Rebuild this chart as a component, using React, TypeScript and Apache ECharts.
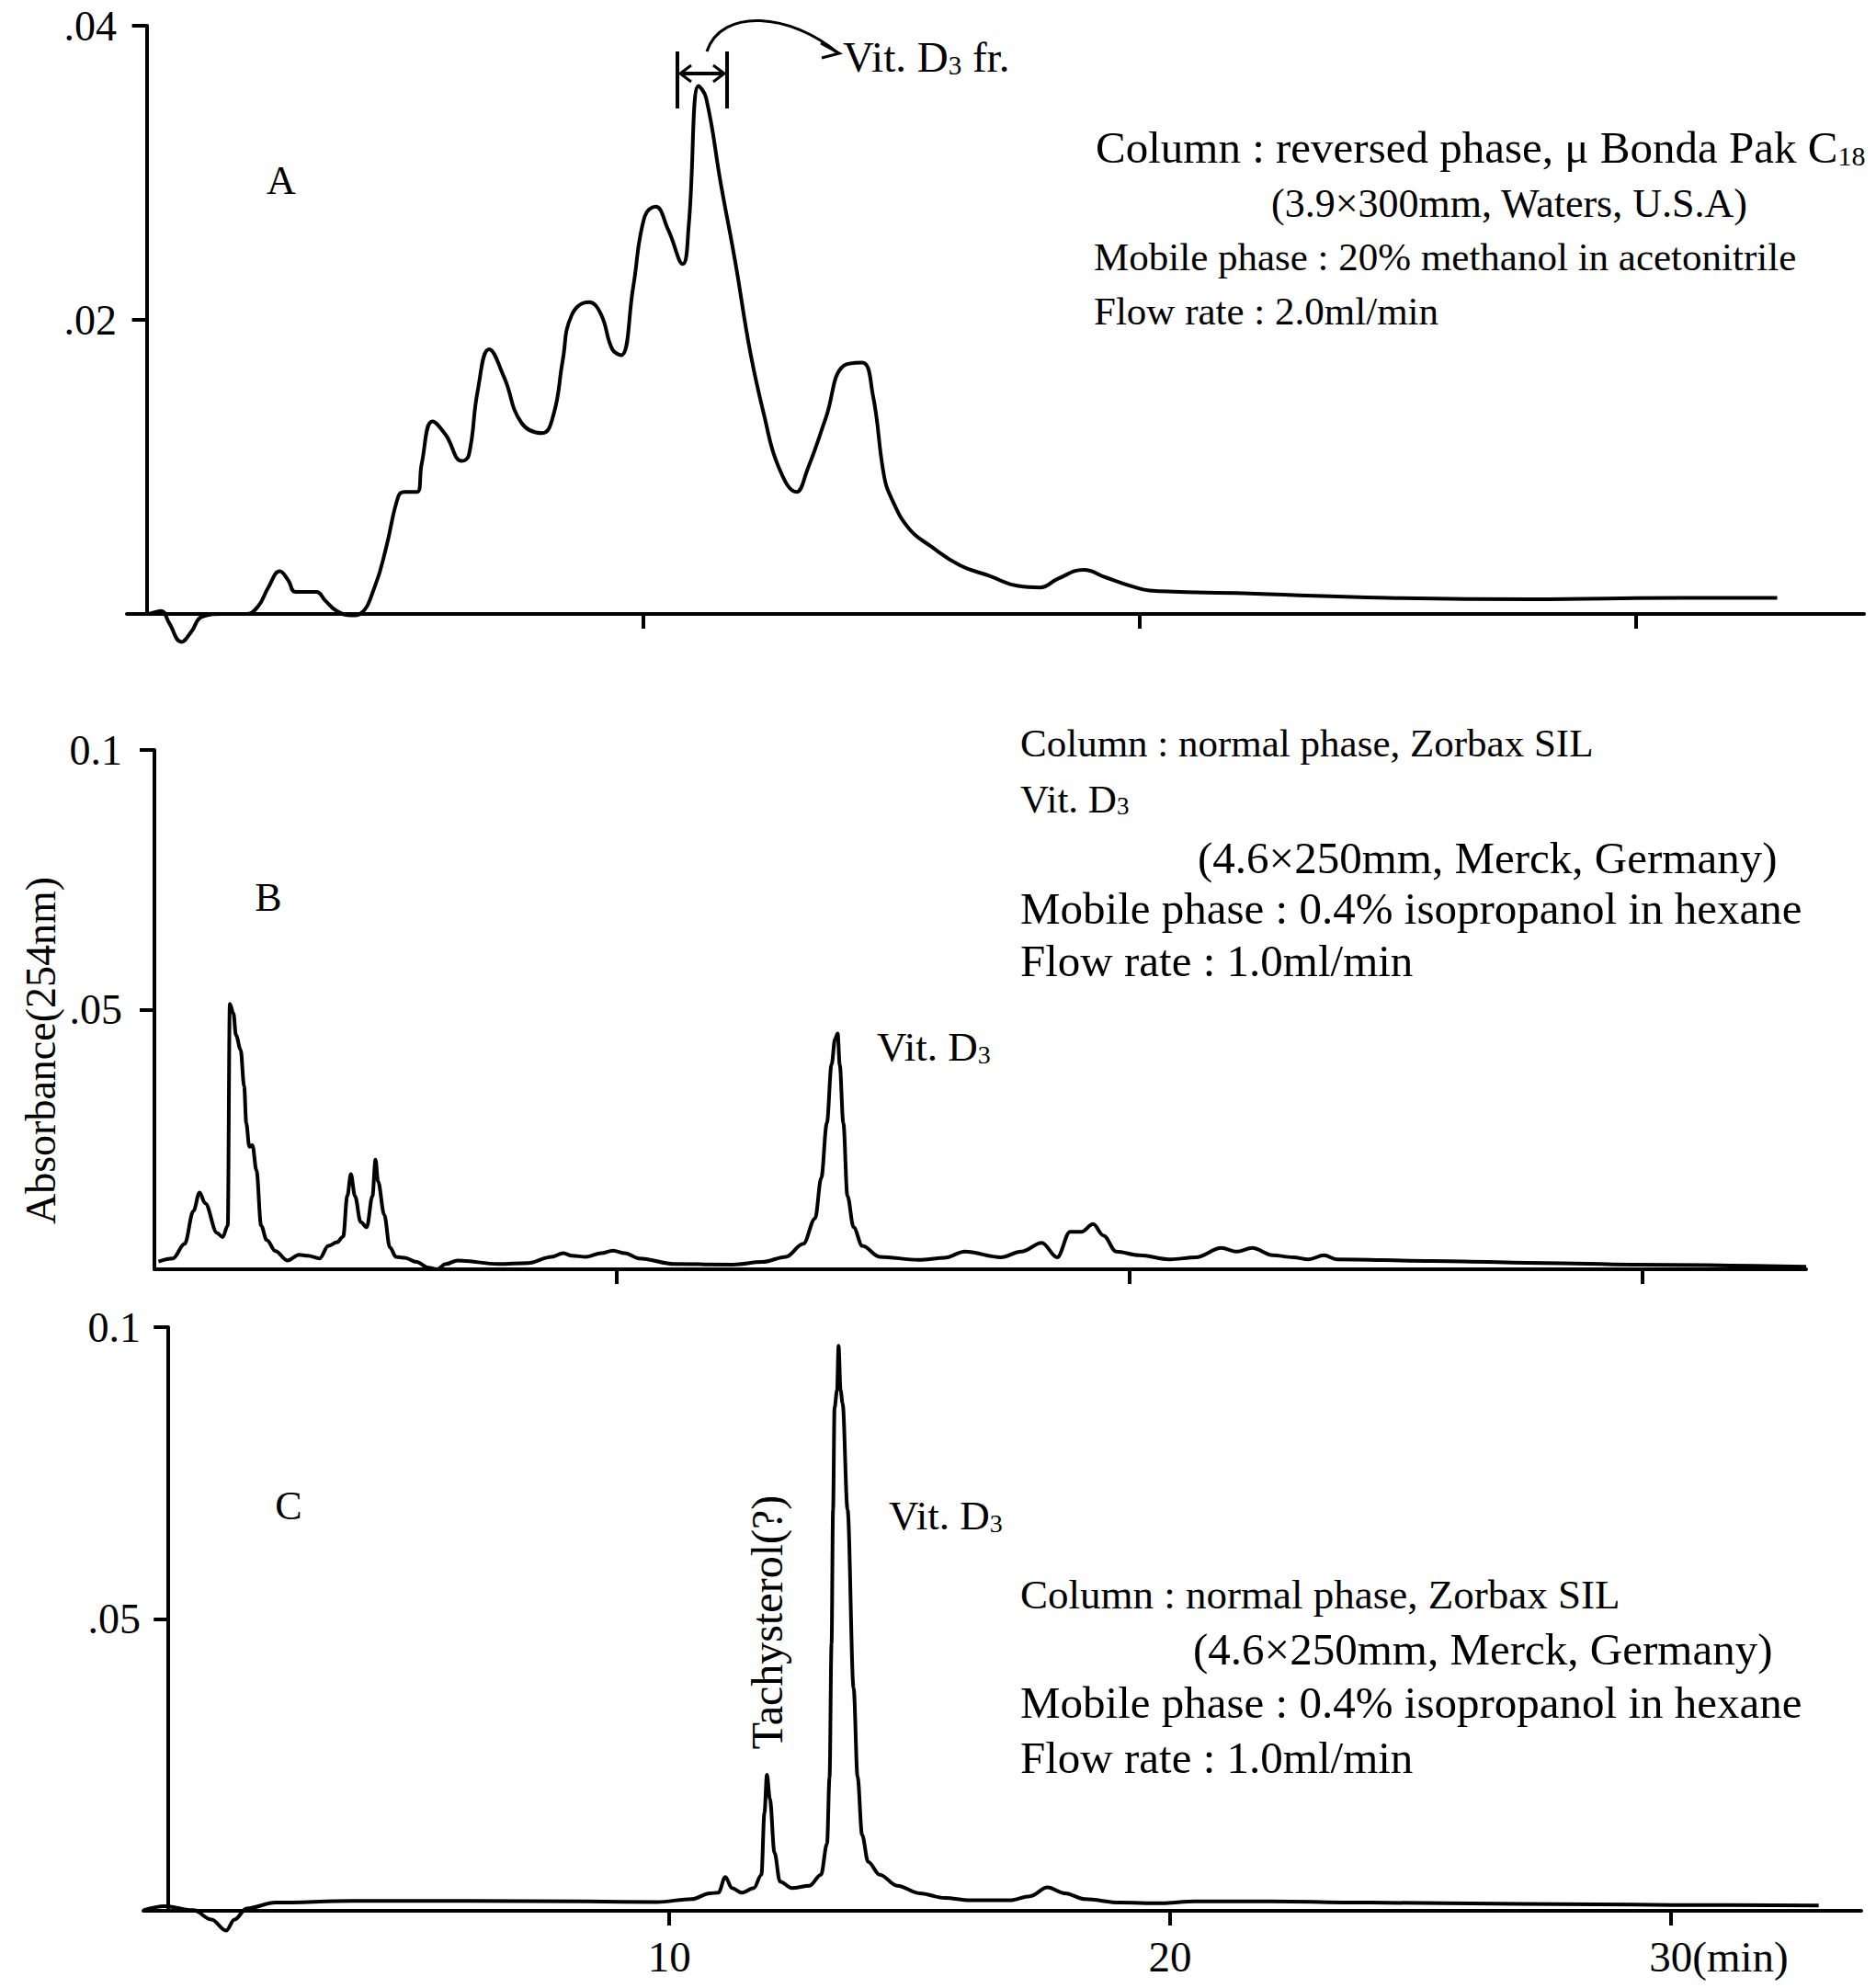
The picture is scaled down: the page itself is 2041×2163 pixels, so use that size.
import React, { useEffect, useRef } from 'react';
import * as echarts from 'echarts';

const SERIF = '"Liberation Serif", "Times New Roman", serif';

// Retention time ticks (min)
const timeTicks = [10, 20, 30];

// Y-axis tick values per panel
const yTicksA = [0.02, 0.04];
const yTicksBC = [0.05, 0.1];
const yLabelMap: Record<string, string> = { '0.02': '.02', '0.04': '.04', '0.05': '.05', '0.1': '0.1' };

// Panel A: reversed phase, [time (min), absorbance]
const traceA: [number, number][] = [
  [-0.3, 0], [0, 0], [0.29, 0.0002], [0.45, -0.0006], [0.7, -0.0019], [0.9, -0.0012], [1.11, -0.0002],
  [1.5, 0], [2.0, 0], [2.24, 0.0005], [2.45, 0.0018], [2.68, 0.0029], [2.85, 0.0023], [3.0, 0.0015],
  [3.42, 0.0015], [3.6, 0.0009], [3.83, 0.0002], [4.13, -0.0001], [4.3, 0], [4.6, 0.0019], [4.83, 0.0046],
  [5.07, 0.008], [5.19, 0.0083], [5.45, 0.0083], [5.54, 0.0102], [5.76, 0.0131], [6.02, 0.0122],
  [6.35, 0.0104], [6.49, 0.0108], [6.67, 0.0152], [6.9, 0.018], [7.2, 0.0161], [7.55, 0.013],
  [7.97, 0.0123], [8.2, 0.0136], [8.38, 0.0172], [8.56, 0.0203], [8.91, 0.0212], [9.15, 0.0204],
  [9.38, 0.018], [9.56, 0.0176], [9.8, 0.0222], [10.03, 0.027], [10.25, 0.0277], [10.51, 0.0261],
  [10.8, 0.0238], [10.92, 0.0264], [11.12, 0.0359], [11.27, 0.0351], [11.57, 0.0292], [11.86, 0.0239],
  [12.16, 0.0178], [12.44, 0.0135], [12.73, 0.01], [13.09, 0.0083], [13.31, 0.0098], [13.68, 0.0133],
  [14.05, 0.0169], [14.41, 0.0171], [14.63, 0.0149], [14.85, 0.0095], [15.0, 0.0079], [15.36, 0.0058],
  [15.8, 0.0046], [16.39, 0.0033], [16.97, 0.0026], [17.56, 0.0019], [18.0, 0.0018], [18.36, 0.0024],
  [18.88, 0.003], [19.31, 0.0025], [19.83, 0.0019], [20.2, 0.0016], [22.1, 0.0014], [25.0, 0.0011],
  [27.9, 0.001], [30.9, 0.0011], [32.85, 0.0011],
];

// Panel B: normal phase, Vit. D3 fraction
const traceB: [number, number][] = [
  [1.08, 0.0015], [1.36, 0.0021], [1.59, 0.0049], [1.76, 0.0112], [1.88, 0.0148], [1.99, 0.0127],
  [2.22, 0.007], [2.33, 0.0062], [2.43, 0.0084], [2.47, 0.0511], [2.54, 0.0493], [2.59, 0.0451],
  [2.68, 0.0423], [2.75, 0.0352], [2.79, 0.0282], [2.85, 0.0236], [2.91, 0.0239], [2.99, 0.019],
  [3.08, 0.0084], [3.19, 0.0056], [3.36, 0.0035], [3.59, 0.0017], [3.82, 0.0028], [3.99, 0.0026],
  [4.22, 0.0021], [4.39, 0.0045], [4.56, 0.0052], [4.68, 0.0063], [4.76, 0.0141], [4.83, 0.0183],
  [4.91, 0.0141], [5.02, 0.0091], [5.14, 0.0081], [5.25, 0.0141], [5.31, 0.0211], [5.36, 0.0169],
  [5.48, 0.0105], [5.59, 0.0042], [5.71, 0.0024], [5.88, 0.0022], [6.11, 0.0014], [6.34, 0.0003],
  [6.51, 0.0], [6.68, 0.001], [6.91, 0.0017], [7.71, 0.001], [8.28, 0.0012], [8.74, 0.0024],
  [8.97, 0.0031], [9.14, 0.0026], [9.42, 0.0024], [9.71, 0.0031], [9.94, 0.0036], [10.17, 0.0031],
  [10.45, 0.0021], [11.14, 0.001], [12.28, 0.0009], [12.85, 0.0014], [13.31, 0.0024], [13.65, 0.0049],
  [13.88, 0.0098], [14.0, 0.0176], [14.11, 0.0282], [14.2, 0.0394], [14.27, 0.0444], [14.32, 0.0454],
  [14.36, 0.0394], [14.43, 0.0282], [14.51, 0.0141], [14.63, 0.0081], [14.8, 0.0045], [15.14, 0.0024],
  [15.9, 0.0018], [16.4, 0.0022], [16.8, 0.0034], [17.5, 0.0023], [17.9, 0.0034], [18.3, 0.0051],
  [18.6, 0.0023], [18.85, 0.0072], [19.07, 0.0072], [19.3, 0.0087], [19.5, 0.0065], [19.75, 0.0034],
  [20.2, 0.0027], [20.8, 0.0019], [21.3, 0.0023], [21.8, 0.0041], [22.1, 0.0034], [22.4, 0.0041],
  [22.8, 0.0027], [23.2, 0.0023], [23.5, 0.0019], [23.8, 0.0027], [24.05, 0.0019], [25.9, 0.0016],
  [28.1, 0.0012], [29.8, 0.0009], [33.2, 0.0005],
];

// Panel C: normal phase, purified Vit. D3
const traceC: [number, number][] = [
  [-0.5, 0.0001], [-0.08, 0.0008], [0.5, 0.0001], [0.86, -0.0015], [1.15, -0.0034], [1.32, -0.0015],
  [1.56, 0.0004], [2.14, 0.0014], [3.67, 0.0017], [6.0, 0.0017], [8.35, 0.0016], [9.75, 0.0015],
  [10.45, 0.002], [10.81, 0.003], [10.98, 0.0031], [11.12, 0.0058], [11.25, 0.0039], [11.45, 0.0031],
  [11.69, 0.0039], [11.84, 0.0062], [11.9, 0.0168], [11.95, 0.0233], [12.01, 0.0191], [12.1, 0.01],
  [12.21, 0.005], [12.45, 0.0039], [12.8, 0.0043], [13.03, 0.0062], [13.15, 0.0115], [13.2, 0.0229],
  [13.24, 0.0458], [13.27, 0.0687], [13.3, 0.0862], [13.35, 0.0892], [13.38, 0.0968], [13.42, 0.0892],
  [13.46, 0.087], [13.56, 0.0687], [13.68, 0.0382], [13.76, 0.0229], [13.85, 0.013], [13.97, 0.0084],
  [14.2, 0.0062], [14.55, 0.0043], [15.0, 0.003], [15.5, 0.0022], [16.0, 0.0018], [16.8, 0.0018],
  [17.2, 0.0025], [17.55, 0.004], [17.9, 0.003], [18.3, 0.002], [19.0, 0.0014], [19.8, 0.0013],
  [20.5, 0.0016], [22.0, 0.0016], [24.0, 0.0014], [27.0, 0.0012], [30.0, 0.001], [32.95, 0.0009],
];

const black = '#000';
const axisLineStyle = { color: black, width: 4 };

function yLabel(v: number) {
  return yLabelMap[String(+v.toFixed(3))] ?? '';
}

function makeX(gridIndex: number, min: number, max: number, labels: boolean) {
  return {
    gridIndex,
    type: 'value',
    min,
    max,
    axisLine: { show: true, onZero: true, lineStyle: axisLineStyle },
    axisTick: { show: true, customValues: timeTicks, length: 16, lineStyle: axisLineStyle },
    axisLabel: labels
      ? {
          show: true,
          customValues: timeTicks,
          margin: 26,
          fontSize: 47,
          fontFamily: SERIF,
          color: black,
          formatter: (v: number) => (v === 30 ? '{u|30(min)}' : String(v)),
          rich: { u: { fontSize: 47, fontFamily: SERIF, color: black, padding: [0, 0, 0, 104] } },
        }
      : { show: false },
    splitLine: { show: false },
  };
}

function makeY(gridIndex: number, max: number, ticks: number[], margin: number) {
  return {
    gridIndex,
    type: 'value',
    min: 0,
    max,
    axisLine: { show: true, onZero: true, lineStyle: axisLineStyle },
    axisTick: { show: true, customValues: ticks, length: 16, lineStyle: axisLineStyle },
    axisLabel: {
      show: true,
      customValues: ticks,
      margin,
      fontSize: 46,
      fontFamily: SERIF,
      color: black,
      formatter: (v: number) => yLabel(v),
    },
    splitLine: { show: false },
  };
}

function txt(x: number, y: number, text: string, fontSize: number, extra: any = {}) {
  return {
    type: 'text',
    x,
    y,
    silent: true,
    style: {
      text,
      fill: black,
      fontSize,
      fontFamily: SERIF,
      align: 'left',
      verticalAlign: 'middle',
      rich: {
        s: { fontSize: Math.round(fontSize * 0.62), fontFamily: SERIF, fill: black, verticalAlign: 'bottom' },
      },
      ...extra,
    },
  };
}

function series(i: number, data: [number, number][], smooth: number, monotone: boolean) {
  return {
    type: 'line',
    xAxisIndex: i,
    yAxisIndex: i,
    data,
    showSymbol: false,
    symbol: 'none',
    smooth,
    smoothMonotone: monotone ? 'x' : undefined,
    clip: false,
    lineStyle: { color: black, width: 4 },
  };
}

export default function App() {
  const ref = useRef<HTMLDivElement>(null);
  useEffect(() => {
    document.body.style.margin = '0';
    const chart = echarts.init(ref.current as HTMLDivElement, null, { renderer: 'svg' });
    const line = (x1: number, y1: number, x2: number, y2: number) => ({
      type: 'line',
      silent: true,
      shape: { x1, y1, x2, y2 },
      style: { stroke: black, lineWidth: 4 },
    });
    const poly = (points: number[][]) => ({
      type: 'polyline',
      silent: true,
      shape: { points },
      style: { stroke: black, lineWidth: 3, fill: null },
    });
    const graphic: any[] = [
      // Panel A annotations
      txt(306, 196, 'A', 44, { align: 'center' }),
      txt(1192, 160, 'Column : reversed phase, \u03bc Bonda Pak C{s|18}', 49),
      txt(1383, 221, '(3.9\u00d7300mm, Waters, U.S.A)', 44),
      txt(1190, 279, 'Mobile phase : 20% methanol in acetonitrile', 43),
      txt(1190, 338, 'Flow rate : 2.0ml/min', 43),
      txt(917, 62, 'Vit. D{s|3} fr.', 47),
      line(737, 56, 737, 118),
      line(791, 56, 791, 118),
      line(740, 80, 788, 80),
      poly([[752, 71], [740, 80], [752, 89]]),
      poly([[776, 71], [788, 80], [776, 89]]),
      {
        type: 'bezierCurve',
        silent: true,
        shape: { x1: 769, y1: 56, cpx1: 785, cpy1: 8, cpx2: 860, cpy2: 14, x2: 912, y2: 58 },
        style: { stroke: black, lineWidth: 3, fill: null },
      },
      poly([[893, 47], [913, 58], [894, 63]]),
      // Panel B annotations
      txt(292, 976, 'B', 44, { align: 'center' }),
      txt(1110, 808, 'Column : normal phase, Zorbax SIL', 43),
      txt(1110, 869, 'Vit. D{s|3}', 43),
      txt(1303, 933, '(4.6\u00d7250mm, Merck, Germany)', 49),
      txt(1110, 988, 'Mobile phase : 0.4% isopropanol in hexane', 49),
      txt(1110, 1045, 'Flow rate : 1.0ml/min', 49),
      txt(954, 1139, 'Vit. D{s|3}', 45),
      // Panel C annotations
      txt(314, 1638, 'C', 44, { align: 'center' }),
      txt(967, 1649, 'Vit. D{s|3}', 45),
      txt(1110, 1735, 'Column : normal phase, Zorbax SIL', 45),
      txt(1298, 1794, '(4.6\u00d7250mm, Merck, Germany)', 49),
      txt(1110, 1852, 'Mobile phase : 0.4% isopropanol in hexane', 49),
      txt(1110, 1912, 'Flow rate : 1.0ml/min', 49),
      // rotated labels
      { ...txt(44, 1143, 'Absorbance(254nm)', 46, { align: 'center' }), rotation: Math.PI / 2 },
      { ...txt(834, 1765, 'Tachysterol(?)', 48, { align: 'center' }), rotation: Math.PI / 2 },
    ];
    const option: any = {
      animation: false,
      backgroundColor: '#fff',
      grid: [
        { left: 138, top: 28, width: 1890, height: 640 },
        { left: 168, top: 816, width: 1797, height: 565 },
        { left: 156, top: 1444, width: 1869, height: 635 },
      ],
      xAxis: [makeX(0, -0.4, 34.6, false), makeX(1, 1.0, 33.2, false), makeX(2, -0.5, 33.8, true)],
      yAxis: [makeY(0, 0.04, yTicksA, 11), makeY(1, 0.1, yTicksBC, 35), makeY(2, 0.1, yTicksBC, 3)],
      series: [series(0, traceA, 0.45, false), series(1, traceB, 0.35, true), series(2, traceC, 0.35, true)],
      graphic,
    };
    chart.setOption(option);
    return () => chart.dispose();
  }, []);
  return <div ref={ref} style={{ width: 2041, height: 2163 }} />;
}
